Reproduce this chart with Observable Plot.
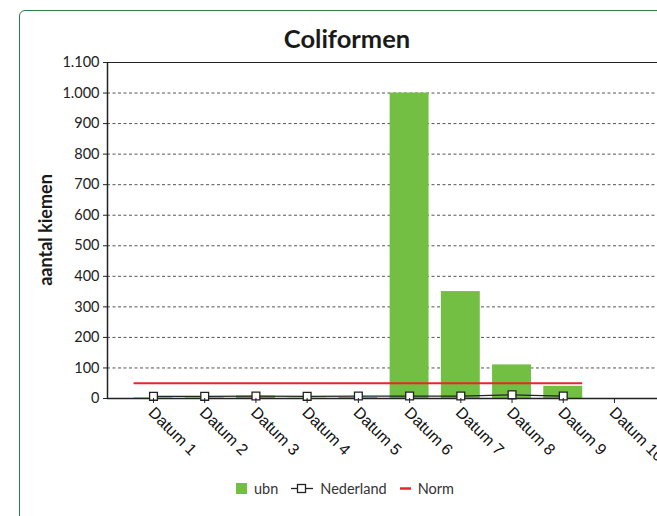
<!DOCTYPE html>
<html>
<head>
<meta charset="utf-8">
<script src="https://cdn.jsdelivr.net/npm/d3@7"></script>
<script src="https://cdn.jsdelivr.net/npm/@observablehq/plot@0.6"></script>
<style>
  html, body { margin: 0; padding: 0; background: #fff; }
  #page { position: relative; width: 657px; height: 516px; overflow: hidden; font-family: "Lato", "Open Sans", sans-serif; }
  #frame { position: absolute; left: 19px; top: 10px; width: 700px; height: 600px; border: 1.6px solid #2f7d47; border-radius: 6px; box-sizing: border-box; }
  #title { position: absolute; left: 0; width: 694px; top: 23px; text-align: center; font-weight: 700; font-size: 25.5px; color: #1a1a1a; }
  #ylabel { position: absolute; left: 45px; top: 230px; transform: translate(-50%, -50%) rotate(-90deg); font-weight: 700; font-size: 18px; color: #1a1a1a; white-space: nowrap; }
  #chart { position: absolute; left: 0; top: 0; }
  #legend { position: absolute; left: 236px; top: 480px; display: flex; align-items: center; font-size: 14.5px; color: #333; }
  .item { display: flex; align-items: center; margin-right: 13px; }
  .sw { display: inline-block; margin-right: 7px; }
</style>
</head>
<body>
<div id="page">
  <div id="frame"></div>
  <div id="title">Coliformen</div>
  <div id="chart"></div>
  <div id="ylabel">aantal kiemen</div>
  <div id="legend"></div>
</div>
<script>
// ---- data ----
const categories = ["Datum 1","Datum 2","Datum 3","Datum 4","Datum 5","Datum 6","Datum 7","Datum 8","Datum 9","Datum 10"];
const ubn        = [2, 2, 8, 1, 3, 1000, 350, 110, 40, 0];
const nederland  = [7, 7, 8, 7, 8, 8, 8, 12, 8, null];
const norm       = [50, 50, 50, 50, 50, 50, 50, 50, 50, null];
const yTicks     = [0,100,200,300,400,500,600,700,800,900,1000,1100];
const seriesNames = ["ubn", "Nederland", "Norm"];
const colors = { ubn: "#72bf44", Nederland: "#222", Norm: "#e8262a" };

const rows = categories.map((c, k) => ({i: k + 1, label: c, ubn: ubn[k], nederland: nederland[k], norm: norm[k]}));
const half = 0.38;
const xDomain = [0.102, 10.84];
const nl = d3.formatLocale({decimal: ",", thousands: ".", grouping: [3], currency: ["€", ""]}).format(",d");
const normRows = rows.filter(d => d.norm != null);
const nedRows = rows.filter(d => d.nederland != null);

const chart = Plot.plot({
  width: 657,
  height: 516,
  marginLeft: 107,
  marginRight: 0,
  marginTop: 62,
  marginBottom: 118,
  style: { fontFamily: "Lato, 'Open Sans', sans-serif", fontSize: "14px", color: "#222", background: "transparent" },
  x: { type: "linear", domain: xDomain, axis: null },
  y: { domain: [0, 1100], axis: null },
  marks: [
    Plot.ruleY(yTicks.filter(v => v > 0 && v < 1100), { stroke: "#555", strokeWidth: 1, strokeDasharray: "3,2.5" }),
    Plot.ruleY([1100], { stroke: "#222", strokeWidth: 1.2 }),
    Plot.rectY(rows, { x1: d => d.i - half, x2: d => d.i + half, y: "ubn", fill: colors.ubn }),
    Plot.ruleY([normRows[0].norm], { x1: d3.min(normRows, d => d.i) - half, x2: d3.max(normRows, d => d.i) + half, stroke: colors.Norm, strokeWidth: 2.2 }),
    Plot.lineY(nedRows, { x: "i", y: "nederland", stroke: colors.Nederland, strokeWidth: 1.3 }),
    Plot.ruleY([0], { stroke: "#222", strokeWidth: 1.5 }),
    Plot.ruleX([xDomain[0]], { stroke: "#222", strokeWidth: 1.5 }),
    Plot.dot(nedRows, { x: "i", y: "nederland", symbol: "square", r: 4.4, fill: "white", stroke: "#222", strokeWidth: 1.3 }),
    Plot.axisY({ ticks: yTicks, tickSize: 4, tickPadding: 4, tickFormat: nl, label: null, fontSize: 14.5, color: "#222" }),
    Plot.axisX({ ticks: rows.map(d => d.i), tickSize: 5, tickFormat: () => "", label: null }),
    Plot.text(rows, { x: "i", frameAnchor: "bottom", text: "label", rotate: 45, textAnchor: "start", lineAnchor: "bottom", dx: -6, dy: 15, fontFamily: "'Liberation Sans', Arial, sans-serif", fontSize: 16, fill: "#111" })
  ]
});
document.getElementById("chart").appendChild(chart);

// legend
const legend = document.getElementById("legend");
seriesNames.forEach(name => {
  const item = document.createElement("div");
  item.className = "item";
  let sw;
  if (name === "ubn") {
    sw = `<svg class="sw" width="11" height="11"><rect width="11" height="11" fill="${colors.ubn}"/></svg>`;
  } else if (name === "Nederland") {
    sw = `<svg class="sw" width="22" height="11"><line x1="0" x2="22" y1="5.5" y2="5.5" stroke="#222" stroke-width="1.3"/><rect x="6.5" y="1.5" width="8" height="8" fill="white" stroke="#222" stroke-width="1.3"/></svg>`;
  } else {
    sw = `<svg class="sw" width="11" height="11"><line x1="0" x2="11" y1="5.5" y2="5.5" stroke="${colors.Norm}" stroke-width="2.5"/></svg>`;
  }
  item.innerHTML = sw + `<span>${name}</span>`;
  legend.appendChild(item);
});
</script>
</body>
</html>
